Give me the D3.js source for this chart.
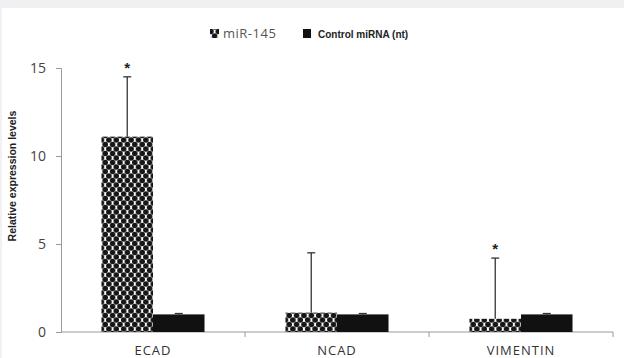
<!DOCTYPE html>
<html>
<head>
<meta charset="utf-8">
<script src="https://cdn.jsdelivr.net/npm/d3@7"></script>
<style>
  body { margin: 0; background: #fff; }
  svg { display: block; }
</style>
</head>
<body>
<div class="container"></div>
<script>
var genes = ["ECAD", "NCAD", "VIMENTIN"];
var seriesNames = ["miR-145", "Control miRNA (nt)"];
var mirValues = [11.1, 1.1, 0.75];
var mirErrors = [14.5, 4.5, 4.2];
var ctrlValues = [1.0, 1.0, 1.0];
var ctrlErrors = [1.05, 1.05, 1.05];
var significant = [true, false, true];
var yTicks = [0, 5, 10, 15];

var W = 624, H = 358;
var margin = {top: 68, right: 11, bottom: 26, left: 61},
  width = W - margin.left - margin.right,
  height = H - margin.top - margin.bottom;

var root = d3.select(".container").append("svg")
  .attr("width", W).attr("height", H);

// grey frame of the original screenshot
root.append("rect").attr("width", W).attr("height", 8).attr("fill", "#eff0f2");
root.append("rect").attr("width", 2).attr("height", H).attr("fill", "#f1f1f3");

var defs = root.append("defs");
var pat = defs.append("pattern")
  .attr("id", "dots")
  .attr("patternUnits", "userSpaceOnUse")
  .attr("width", 7.4).attr("height", 9);
pat.append("rect").attr("width", 7.4).attr("height", 9).attr("fill", "#fff");
[[0, 0], [7.4, 0], [3.7, 4.5], [0, 9], [7.4, 9]].forEach(function(p) {
  pat.append("circle").attr("cx", p[0]).attr("cy", p[1]).attr("r", 2.8).attr("fill", "#161616");
});

var svg = root.append("g")
  .attr("transform", "translate(" + margin.left + "," + margin.top + ")");

var x0 = d3.scaleBand()
  .domain(genes)
  .range([0, width])
  .paddingInner(0.44)
  .paddingOuter(0.22);

var x1 = d3.scaleBand()
  .domain(seriesNames)
  .range([0, x0.bandwidth()]);

var y = d3.scaleLinear()
  .domain([0, 15])
  .range([height, 0]);

// y axis
var yAxis = svg.append("g")
  .call(d3.axisLeft(y).tickValues(yTicks).tickSize(5).tickPadding(10));
yAxis.select(".domain").attr("stroke", "#9a9a9a");
yAxis.selectAll(".tick line").attr("stroke", "#9a9a9a");
yAxis.selectAll(".tick text")
  .attr("fill", "#444")
  .style("font-family", "'Open Sans', sans-serif")
  .style("font-size", "14px");

// x axis with ticks at category boundaries
svg.append("line")
  .attr("x1", 0).attr("x2", width)
  .attr("y1", height).attr("y2", height)
  .attr("stroke", "#9a9a9a");
var step = x0.step();
genes.forEach(function(g, i) {
  var bx = x0(g) - x0.paddingOuter() * step + step;
  svg.append("line")
    .attr("x1", bx).attr("x2", bx)
    .attr("y1", height).attr("y2", height + 5)
    .attr("stroke", "#9a9a9a");
});

svg.selectAll(".cat-label")
  .data(genes)
  .enter().append("text")
  .attr("class", "cat-label")
  .attr("x", function(d) { return x0(d) + x0.bandwidth() / 2; })
  .attr("y", height + 23)
  .attr("text-anchor", "middle")
  .attr("fill", "#333")
  .style("font-family", "'Open Sans', sans-serif")
  .style("font-size", "13px")
  .style("letter-spacing", "1px")
  .text(function(d) { return d; });

// bars
var groups = svg.selectAll(".grp")
  .data(genes)
  .enter().append("g")
  .attr("transform", function(d) { return "translate(" + x0(d) + ",0)"; });

groups.append("rect")
  .attr("x", x1(seriesNames[0]))
  .attr("width", x1.bandwidth())
  .attr("y", function(d, i) { return y(mirValues[i]); })
  .attr("height", function(d, i) { return height - y(mirValues[i]); })
  .attr("fill", "url(#dots)");

groups.append("rect")
  .attr("x", x1(seriesNames[1]))
  .attr("width", x1.bandwidth())
  .attr("y", function(d, i) { return y(ctrlValues[i]); })
  .attr("height", function(d, i) { return height - y(ctrlValues[i]); })
  .attr("fill", "#111");

// error bars (upper only)
function errBar(sel, vals, errs, series) {
  var cx = x1(series) + x1.bandwidth() / 2;
  sel.append("line")
    .attr("x1", cx).attr("x2", cx)
    .attr("y1", function(d, i) { return y(vals[i]); })
    .attr("y2", function(d, i) { return y(errs[i]); })
    .attr("stroke", "#333").attr("stroke-width", 1.3);
  sel.append("line")
    .attr("x1", cx - 4).attr("x2", cx + 4)
    .attr("y1", function(d, i) { return y(errs[i]); })
    .attr("y2", function(d, i) { return y(errs[i]); })
    .attr("stroke", "#333").attr("stroke-width", 1.3);
}
errBar(groups, mirValues, mirErrors, seriesNames[0]);
errBar(groups, ctrlValues, ctrlErrors, seriesNames[1]);

// significance stars
groups.filter(function(d, i) { return significant[i]; })
  .append("text")
  .attr("x", x1(seriesNames[0]) + x1.bandwidth() / 2)
  .attr("y", function(d) { var i = genes.indexOf(d); return y(mirErrors[i]) - 4; })
  .attr("text-anchor", "middle")
  .attr("fill", "#222")
  .style("font-family", "Arial, sans-serif")
  .style("font-size", "15px")
  .style("font-weight", "bold")
  .text("*");

// y label
root.append("text")
  .attr("transform", "translate(16," + 176 + ") rotate(-90)")
  .attr("text-anchor", "middle")
  .attr("fill", "#222")
  .style("font-family", "Arial, sans-serif")
  .style("font-size", "10.5px")
  .style("font-weight", "bold")
  .text("Relative expression levels");

// legend
root.append("rect")
  .attr("x", 210).attr("y", 29).attr("width", 9).attr("height", 9)
  .attr("fill", "url(#dots)");
root.append("text")
  .attr("x", 223).attr("y", 38)
  .attr("fill", "#555")
  .style("font-family", "'Open Sans', sans-serif")
  .style("font-size", "13px")
  .style("letter-spacing", "0.5px")
  .text(seriesNames[0]);
root.append("rect")
  .attr("x", 303).attr("y", 29).attr("width", 8).attr("height", 9)
  .attr("fill", "#111");
root.append("text")
  .attr("x", 318).attr("y", 38)
  .attr("fill", "#222")
  .style("font-family", "Arial, sans-serif")
  .style("font-size", "10px")
  .style("font-weight", "bold")
  .text(seriesNames[1]);
</script>
</body>
</html>
